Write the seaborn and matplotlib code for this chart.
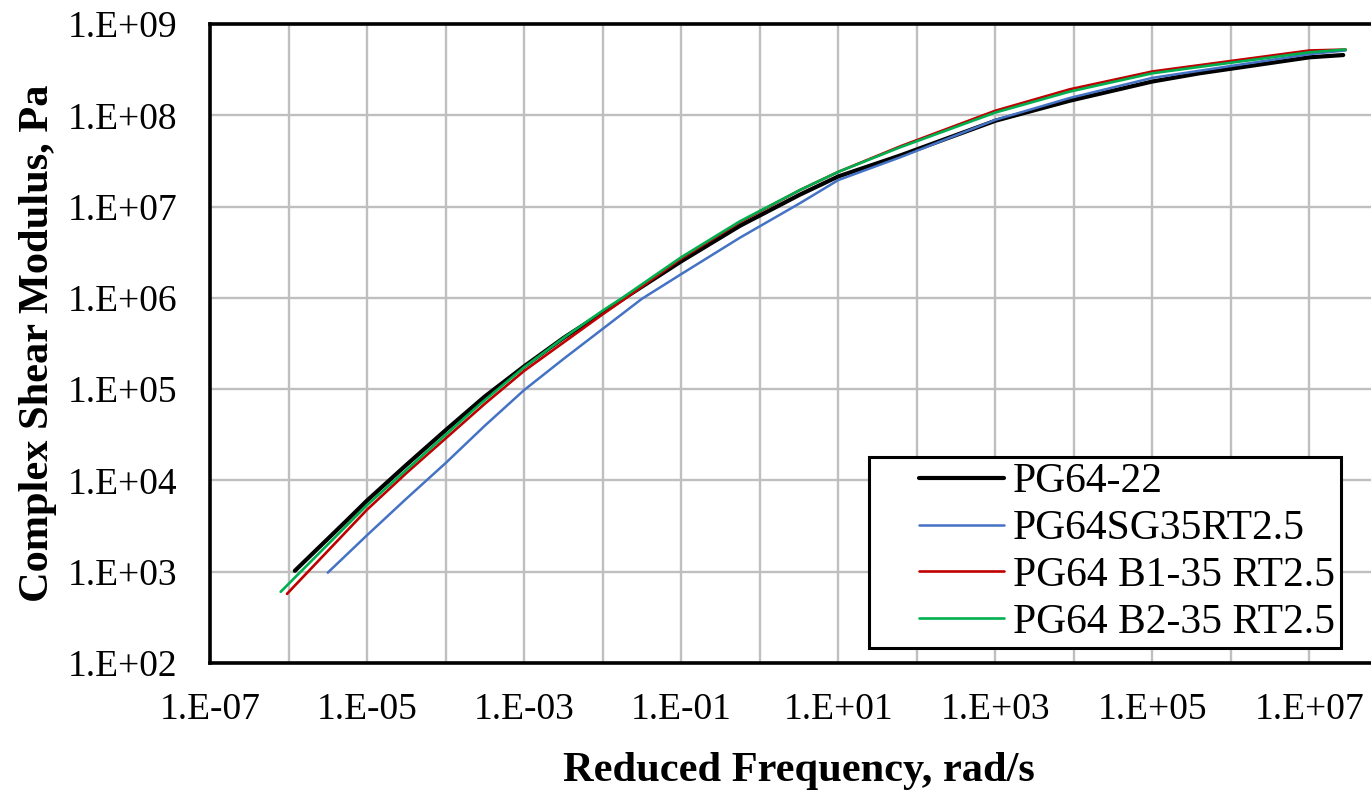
import numpy as np
import pandas as pd
import matplotlib
matplotlib.use("Agg")
import matplotlib.pyplot as plt
import seaborn as sns
from matplotlib.lines import Line2D
from matplotlib.legend_handler import HandlerLine2D
from matplotlib.ticker import FixedLocator, NullFormatter

# ---- data (log10 of reduced frequency, log10 of |G*|) ----
labels = ["PG64-22", "PG64SG35RT2.5", "PG64 B1-35 RT2.5", "PG64 B2-35 RT2.5"]
colors = ["#000000", "#4472C4", "#C00000", "#00B050"]
widths = [3.0, 1.8, 1.9, 1.9]

black_logx = [-5.92, -5.26, -5.0, -4.5, -4.0, -3.5, -3.0, -2.5, -2.0, -1.72, -1.0, -0.25, 0.22, 0.51, 1.0, 1.79, 3.0, 3.95, 5.0, 5.6, 7.0, 7.43]
black_logy = [3.01, 3.56, 3.78, 4.17, 4.55, 4.92, 5.25, 5.56, 5.84, 6.0, 6.40, 6.79, 7.0, 7.13, 7.33, 7.56, 7.94, 8.16, 8.37, 8.46, 8.635, 8.66]

blue_logx = [-5.50, -5.0, -4.5, -4.0, -3.5, -3.0, -2.5, -2.0, -1.5, -1.0, -0.25, 0.51, 1.0, 1.79, 3.0, 3.95, 5.0, 7.0, 7.46]
blue_logy = [2.99, 3.40, 3.80, 4.19, 4.60, 4.99, 5.33, 5.66, 5.99, 6.26, 6.66, 7.036, 7.29, 7.54, 7.95, 8.19, 8.41, 8.67, 8.71]

red_logx = [-6.02, -5.0, -4.5, -4.0, -3.5, -3.0, -2.0, -1.7, -1.0, -0.25, 0.51, 1.0, 1.79, 3.0, 3.95, 5.0, 7.0, 7.46]
red_logy = [2.757, 3.68, 4.08, 4.46, 4.84, 5.20, 5.82, 6.0, 6.43, 6.83, 7.18, 7.38, 7.66, 8.05, 8.285, 8.48, 8.71, 8.72]

green_logx = [-6.10, -5.0, -4.0, -3.57, -3.0, -2.5, -2.0, -1.75, -1.0, -0.25, 0.51, 1.0, 1.79, 3.0, 3.95, 5.0, 5.6, 7.0, 7.46]
green_logy = [2.78, 3.73, 4.50, 4.83, 5.24, 5.56, 5.86, 6.0, 6.445, 6.84, 7.18, 7.38, 7.65, 8.03, 8.26, 8.46, 8.53, 8.69, 8.72]

series_x = [black_logx, blue_logx, red_logx, green_logx]
series_y = [black_logy, blue_logy, red_logy, green_logy]

x_ticks_major = [1e-7, 1e-5, 1e-3, 1e-1, 1e1, 1e3, 1e5, 1e7]
x_tick_labels = ["1.E-07", "1.E-05", "1.E-03", "1.E-01", "1.E+01", "1.E+03", "1.E+05", "1.E+07"]
y_ticks = [1e2, 1e3, 1e4, 1e5, 1e6, 1e7, 1e8, 1e9]
y_tick_labels = ["1.E+02", "1.E+03", "1.E+04", "1.E+05", "1.E+06", "1.E+07", "1.E+08", "1.E+09"]

# ---- figure ----
sns.set_theme(style="white")
plt.rcParams["font.family"] = ["Liberation Serif", "DejaVu Serif"]

W, H = 1371, 791
fig = plt.figure(figsize=(W / 100, H / 100), dpi=100)
left, right, top, bottom = 210, 1388, 24, 663
ax = fig.add_axes([left / W, 1 - bottom / H, (right - left) / W, (bottom - top) / H])

for lx, ly, lab, c, lw in zip(series_x, series_y, labels, colors, widths):
    df = pd.DataFrame({"f": np.power(10.0, lx), "G": np.power(10.0, ly)})
    sns.lineplot(data=df, x="f", y="G", ax=ax, color=c, lw=lw, label=lab,
                 sort=False, estimator=None)

ax.set_xscale("log")
ax.set_yscale("log")
ax.set_xlim(1e-7, 1e8)
ax.set_ylim(1e2, 1e9)

ax.xaxis.set_major_locator(FixedLocator(x_ticks_major))
ax.set_xticklabels(x_tick_labels)
ax.xaxis.set_minor_locator(FixedLocator([1e-6, 1e-4, 1e-2, 1e0, 1e2, 1e4, 1e6]))
ax.xaxis.set_minor_formatter(NullFormatter())
ax.yaxis.set_major_locator(FixedLocator(y_ticks))
ax.set_yticklabels(y_tick_labels)
ax.yaxis.set_minor_locator(FixedLocator([]))

ax.grid(True, which="both", axis="x", color="#BFBFBF", lw=1.7)
ax.grid(True, which="major", axis="y", color="#BFBFBF", lw=1.7)
ax.set_axisbelow(True)
ax.tick_params(axis="both", which="both", length=0, labelsize=27, colors="black")
ax.tick_params(axis="x", pad=21)
ax.tick_params(axis="y", pad=23.5)

for s in ["left", "bottom", "top", "right"]:
    ax.spines[s].set_visible(True)
    ax.spines[s].set_color("black")
    ax.spines[s].set_linewidth(2.6)

ax.set_xlabel("Reduced Frequency, rad/s", fontsize=30.5, fontweight="bold",
              labelpad=18, color="black")
ax.set_ylabel("Complex Shear Modulus, Pa", fontsize=30.5, fontweight="bold",
              labelpad=7.5, color="black")

leg = ax.legend(loc="upper left", bbox_to_anchor=(0.5594, 0.3224), borderaxespad=0,
                fontsize=30, frameon=True, fancybox=False, framealpha=1,
                edgecolor="black", handlelength=3.1, handletextpad=0.22,
                labelspacing=0.2, borderpad=0.14,
                handler_map={Line2D: HandlerLine2D(xpad=1.06)})
leg.get_frame().set_linewidth(2.2)
for t in leg.get_texts():
    t.set_color("black")

fig.savefig("out.png", dpi=100)
